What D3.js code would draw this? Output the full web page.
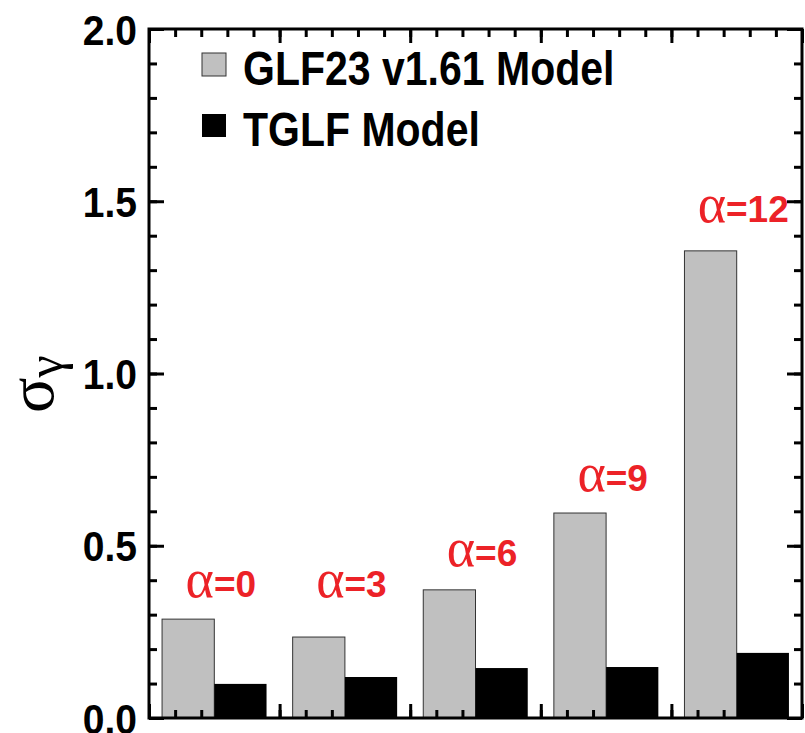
<!DOCTYPE html>
<html>
<head>
<meta charset="utf-8">
<script src="https://cdn.jsdelivr.net/npm/d3@7"></script>
<style>
  body { margin: 0; background: #fff; }
  svg { display: block; }
  .cond { font-family: "Liberation Sans", Arial, sans-serif; font-weight: bold; }
  .greek { font-family: "Liberation Serif", "DejaVu Serif", serif; font-weight: normal; }
</style>
</head>
<body>
<svg id="chart"></svg>
<script>
// data
const alphas = ["0", "3", "6", "9", "12"];
const glf23 = [0.287, 0.235, 0.372, 0.595, 1.356];
const tglf = [0.099, 0.119, 0.145, 0.148, 0.189];
const labelY = [0.35, 0.35, 0.44, 0.66, 1.44];
const yTicks = [0.0, 0.5, 1.0, 1.5, 2.0];
const legendLabels = ["GLF23 v1.61 Model", "TGLF Model"];
const colors = ["#c0c0c0", "#000000"];

const width = 805, height = 733;
const svg = d3.select("#chart").attr("width", width).attr("height", height);

const x = d3.scaleLinear().domain([0, 5]).range([149, 802]);
const y = d3.scaleLinear().domain([0, 2]).range([718, 29]);

// bars
const groups = svg.append("g").selectAll("g")
  .data(alphas.map((a, i) => ({ a, i, g: glf23[i], t: tglf[i] })))
  .join("g");

groups.append("rect")
  .attr("x", d => x(d.i + 0.1))
  .attr("width", d => x(d.i + 0.5) - x(d.i + 0.1))
  .attr("y", d => y(d.g))
  .attr("height", d => y(0) - y(d.g))
  .attr("fill", colors[0])
  .attr("stroke", "#333")
  .attr("stroke-width", 1);

groups.append("rect")
  .attr("x", d => x(d.i + 0.5))
  .attr("width", d => x(d.i + 0.9) - x(d.i + 0.5))
  .attr("y", d => y(d.t))
  .attr("height", d => y(0) - y(d.t))
  .attr("fill", colors[1]);

// alpha labels
const lab = groups.append("text")
  .attr("transform", d => `translate(${x(d.i + 0.55)},${y(labelY[d.i])})`)
  .attr("text-anchor", "middle")
  .attr("fill", "#ec2227")
  .style("font-size", "37px");
lab.append("tspan")
  .attr("class", "greek")
  .style("font-size", "54px")
  .text("α");
lab.append("tspan")
  .attr("class", "cond")
  .text(d => "=" + d.a);

// axes
const minorY = d3.range(0, 2.001, 0.1).map(v => +v.toFixed(1));
const minorX = d3.range(0, 5.001, 0.2).map(v => +v.toFixed(1));

function styleAxis(g) {
  g.select(".domain").remove();
  g.selectAll("line").attr("stroke", "#000").attr("stroke-width", 3);
}

svg.append("g").attr("transform", `translate(${x(0)},0)`)
  .call(d3.axisLeft(y).tickValues(minorY).tickSize(-8).tickFormat(""))
  .call(styleAxis);
svg.append("g").attr("transform", `translate(${x(5)},0)`)
  .call(d3.axisRight(y).tickValues(minorY).tickSize(-8).tickFormat(""))
  .call(styleAxis);
svg.append("g").attr("transform", `translate(0,${y(0)})`)
  .call(d3.axisBottom(x).tickValues(minorX).tickSize(-8).tickFormat(""))
  .call(styleAxis);
svg.append("g").attr("transform", `translate(0,${y(2)})`)
  .call(d3.axisTop(x).tickValues(minorX).tickSize(-8).tickFormat(""))
  .call(styleAxis);

// major ticks
svg.append("g").attr("transform", `translate(${x(0)},0)`)
  .call(d3.axisLeft(y).tickValues(yTicks).tickSize(-15).tickPadding(0).tickFormat(d3.format(".1f")))
  .call(styleAxis)
  .selectAll("text")
  .attr("class", "cond")
  .attr("fill", "#000")
  .attr("x", null)
  .attr("dy", "0.36em")
  .attr("transform", "translate(-12,0) scale(0.93,1)")
  .style("font-size", "42px");
svg.append("g").attr("transform", `translate(${x(5)},0)`)
  .call(d3.axisRight(y).tickValues(yTicks).tickSize(-15).tickFormat(""))
  .call(styleAxis);
svg.append("g").attr("transform", `translate(0,${y(0)})`)
  .call(d3.axisBottom(x).tickValues([0, 1, 2, 3, 4, 5]).tickSize(-14).tickFormat(""))
  .call(styleAxis);
svg.append("g").attr("transform", `translate(0,${y(2)})`)
  .call(d3.axisTop(x).tickValues([0, 1, 2, 3, 4, 5]).tickSize(-14).tickFormat(""))
  .call(styleAxis);

// frame
svg.append("rect")
  .attr("x", x(0)).attr("y", y(2))
  .attr("width", x(5) - x(0)).attr("height", y(0) - y(2))
  .attr("fill", "none").attr("stroke", "#000").attr("stroke-width", 3);

// y label
const yl = svg.append("text")
  .attr("class", "greek")
  .attr("transform", "translate(53,413) rotate(-90)")
  .style("font-size", "66px")
  .attr("fill", "#000");
yl.append("tspan").text("σ");
yl.append("tspan").attr("dy", 9).style("font-size", "50px").text("γ");

// legend
const leg = svg.append("g").selectAll("g")
  .data(legendLabels)
  .join("g")
  .attr("transform", (d, i) => `translate(202,${53 + i * 61})`);
leg.append("rect")
  .attr("width", 24).attr("height", 23)
  .attr("fill", (d, i) => colors[i])
  .attr("stroke", (d, i) => i === 0 ? "#333" : "none");
leg.append("text")
  .attr("class", "cond")
  .attr("transform", "translate(41,32) scale(0.837,1)")
  .style("font-size", "49px")
  .attr("fill", "#000")
  .text(d => d);
</script>
</body>
</html>
